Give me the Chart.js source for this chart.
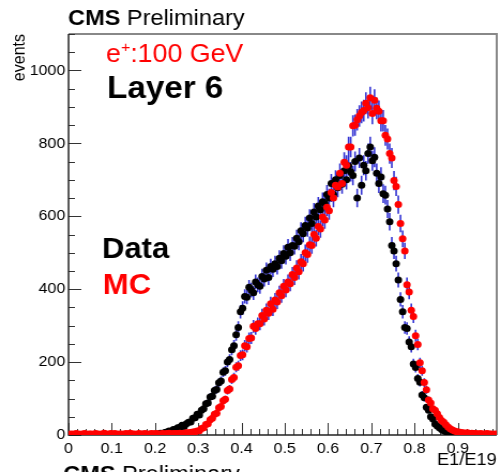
<!DOCTYPE html>
<html>
<head>
<meta charset="utf-8">
<script src="https://cdn.jsdelivr.net/npm/chart.js@4.4.1/dist/chart.umd.min.js"></script>
<style>
  html, body { margin: 0; padding: 0; background: #fff; overflow: hidden; }
  #plot { display: block; transform: scaleX(1.0705); transform-origin: 0 0; }
</style>
</head>
<body>
<canvas id="plot" width="468" height="472"></canvas>
<script>
// E1/E19 histogram, 0.005 wide bins from 0 to 0.99
const BIN_WIDTH = 0.005;
const X_MAX = 0.99;

const DATA_COUNTS = [
    0, 1, 0, 0, 1, 0, 0, 1, 0, 0,
    0, 1, 0, 0, 0, 1, 0, 0, 1, 0,
    1, 0, 0, 1, 0, 1, 0, 0, 1, 1,
    0, 1, 1, 0, 2, 1, 1, 2, 1, 2,
    3, 2, 5, 4, 7, 8, 11, 10, 15, 16,
    20, 21, 27, 23, 31, 35, 36, 46, 47, 57,
    55, 68, 72, 86, 88, 104, 106, 122, 125, 143,
    148, 172, 176, 200, 207, 234, 245, 275, 295, 338,
    348, 380, 378, 405, 398, 390, 420, 412, 408, 435,
    428, 452, 432, 462, 455, 470, 462, 485, 478, 498,
    490, 515, 500, 520, 518, 540, 530, 560, 552, 575,
    568, 595, 580, 612, 598, 628, 618, 640, 635, 660,
    650, 690, 660, 700, 678, 712, 688, 725, 700, 738,
    722, 712, 750, 650, 760, 685, 740, 725, 772, 790,
    752, 762, 718, 690, 708, 662, 658, 620, 585, 520,
    505, 470, 425, 372, 338, 295, 292, 255, 242, 195,
    185, 155, 145, 110, 102, 76, 68, 50, 44, 30,
    25, 20, 15, 12, 9, 8, 6, 5, 5, 4,
    3, 3, 2, 3, 2, 2, 1, 2, 1, 1,
    1, 1, 0, 1, 1, 0, 1, 0,
];

const MC_COUNTS = [
    2, 3, 2, 4, 3, 2, 3, 4, 2, 3,
    3, 2, 4, 3, 2, 3, 5, 3, 2, 4,
    3, 4, 2, 3, 3, 2, 4, 3, 5, 3,
    3, 2, 4, 3, 3, 4, 2, 3, 4, 3,
    4, 3, 3, 4, 3, 4, 5, 3, 4, 4,
    4, 5, 4, 5, 6, 6, 7, 8, 9, 11,
    12, 18, 20, 29, 31, 42, 46, 57, 60, 75,
    78, 94, 98, 122, 126, 152, 158, 186, 190, 218,
    220, 245, 242, 265, 266, 298, 292, 305, 305, 328,
    318, 342, 334, 360, 345, 370, 365, 390, 382, 408,
    398, 420, 415, 440, 432, 458, 448, 475, 470, 500,
    495, 522, 520, 550, 540, 572, 565, 598, 590, 625,
    615, 665, 650, 685, 680, 718, 690, 748, 740, 790,
    790, 848, 850, 865, 875, 885, 890, 910, 898, 925,
    882, 918, 896, 888, 862, 862, 822, 812, 772, 760,
    698, 682, 632, 580, 538, 505, 412, 392, 342, 325,
    272, 248, 198, 176, 144, 124, 96, 88, 72, 68,
    58, 48, 40, 35, 28, 22, 17, 14, 11, 9,
    8, 7, 6, 5, 6, 4, 5, 4, 4, 3,
    4, 3, 3, 4, 3, 3, 2, 3,
];

const Y_MAX = 1100;
const Y_STEP = 200;
const X_STEP = 0.1;

const FONT = '"Liberation Sans", Arial, Helvetica, sans-serif';

function toPoints(counts) {
    return counts.map((n, i) => ({ x: (i + 0.5) * BIN_WIDTH, y: n }));
}

// inward ROOT-style ticks plus the frame
const frameTicks = {
    id: 'frameTicks',
    beforeDatasetsDraw(chart) {
        const { ctx, chartArea: a, scales: { x, y } } = chart;
        ctx.save();
        ctx.strokeStyle = '#888';
        ctx.lineWidth = 2;
        ctx.beginPath();
        ctx.moveTo(a.left, a.top);
        ctx.lineTo(a.right, a.top);
        ctx.lineTo(a.right, a.bottom);
        ctx.stroke();

        ctx.strokeStyle = '#333';
        ctx.lineWidth = 1;
        ctx.beginPath();
        for (let k = 0; k * 50 <= Y_MAX; k++) {
            const py = Math.round(y.getPixelForValue(k * 50)) + 0.5;
            const len = k % 4 === 0 ? 12 : 6;
            ctx.moveTo(a.left, py);
            ctx.lineTo(a.left + len, py);
        }
        for (let k = 0; k * 0.02 <= X_MAX; k++) {
            const px = Math.round(x.getPixelForValue(k * 0.02)) + 0.5;
            const len = k % 5 === 0 ? 12 : 6;
            ctx.moveTo(px, a.bottom);
            ctx.lineTo(px, a.bottom - len);
        }
        ctx.stroke();

        ctx.strokeStyle = '#222';
        ctx.lineWidth = 1.5;
        ctx.beginPath();
        ctx.moveTo(a.left, a.top);
        ctx.lineTo(a.left, a.bottom);
        ctx.lineTo(a.right, a.bottom);
        ctx.stroke();

        // sqrt(N) error bars under the markers
        ctx.strokeStyle = 'rgba(0, 0, 200, 0.8)';
        ctx.lineWidth = 1.6;
        ctx.beginPath();
        chart.data.datasets.forEach((ds) => {
            ds.data.forEach((p) => {
                if (p.y <= 0) return;
                const err = Math.sqrt(p.y);
                const px = x.getPixelForValue(p.x);
                ctx.moveTo(px, y.getPixelForValue(p.y + err));
                ctx.lineTo(px, y.getPixelForValue(Math.max(0, p.y - err)));
            });
        });
        ctx.stroke();
        ctx.restore();
    },
    afterDraw(chart) {
        const { ctx, chartArea: a } = chart;
        ctx.save();
        ctx.textBaseline = 'alphabetic';

        const cms = (px, py) => {
            ctx.fillStyle = '#000';
            ctx.textAlign = 'left';
            ctx.font = `bold 22px ${FONT}`;
            ctx.fillText('CMS', px, py);
            const w = ctx.measureText('CMS ').width;
            ctx.font = `22px ${FONT}`;
            ctx.fillText('Preliminary', px + w, py);
        };
        cms(63.5, 25);
        cms(59, 481);

        // y title
        ctx.save();
        ctx.translate(23.4, a.top);
        ctx.rotate(-Math.PI / 2);
        ctx.textAlign = 'right';
        ctx.font = `16px ${FONT}`;
        ctx.fillStyle = '#000';
        ctx.fillText('events', 0, 0);
        ctx.restore();

        // beam label with superscript charge
        ctx.fillStyle = '#ff0000';
        ctx.font = `25px ${FONT}`;
        let tx = 99;
        ctx.fillText('e', tx, 62);
        tx += ctx.measureText('e').width;
        ctx.font = `15px ${FONT}`;
        ctx.fillText('+', tx, 52);
        tx += ctx.measureText('+').width;
        ctx.font = `25px ${FONT}`;
        ctx.fillText(':100 GeV', tx, 62);

        ctx.fillStyle = '#000';
        ctx.font = `bold 31px ${FONT}`;
        ctx.fillText('Layer 6', 100, 98);
        ctx.font = `bold 29px ${FONT}`;
        ctx.fillText('Data', 95.3, 258);
        ctx.fillStyle = '#ff0000';
        ctx.fillText('MC', 96, 294);

        ctx.fillStyle = '#000';
        ctx.font = `17px ${FONT}`;
        ctx.textAlign = 'right';
        ctx.fillText('E1/E19', a.right, 465);
        ctx.restore();
    },
};

new Chart(document.getElementById('plot'), {
    type: 'scatter',
    data: {
        datasets: [
            {
                label: 'Data',
                data: toPoints(DATA_COUNTS),
                backgroundColor: '#000',
                borderWidth: 0,
                pointRadius: 3.5,
                order: 2,
            },
            {
                label: 'MC',
                data: toPoints(MC_COUNTS),
                backgroundColor: '#ff0000',
                borderWidth: 0,
                pointRadius: 3.5,
                order: 1,
            },
        ],
    },
    options: {
        responsive: false,
        animation: false,
        events: [],
        layout: { padding: { top: 34, right: 3.7, left: 0, bottom: 0 } },
        plugins: { legend: { display: false }, tooltip: { enabled: false } },
        scales: {
            x: {
                type: 'linear',
                min: 0,
                max: X_MAX,
                grid: { display: false, drawTicks: false },
                border: { display: false },
                afterFit: (s) => { s.height = 37; },
                ticks: {
                    stepSize: X_STEP,
                    includeBounds: false,
                    maxRotation: 0,
                    autoSkip: false,
                    padding: 5,
                    color: '#000',
                    font: { family: FONT, size: 15 },
                    callback: (v) => String(+v.toFixed(2)),
                },
            },
            y: {
                type: 'linear',
                min: 0,
                max: Y_MAX,
                grid: { display: false, drawTicks: false },
                border: { display: false },
                afterFit: (s) => { s.width = 64; },
                ticks: {
                    stepSize: Y_STEP,
                    includeBounds: false,
                    padding: 3,
                    color: '#000',
                    font: { family: FONT, size: 15 },
                    callback: (v) => String(v),
                },
            },
        },
    },
    plugins: [frameTicks],
});
</script>
</body>
</html>
